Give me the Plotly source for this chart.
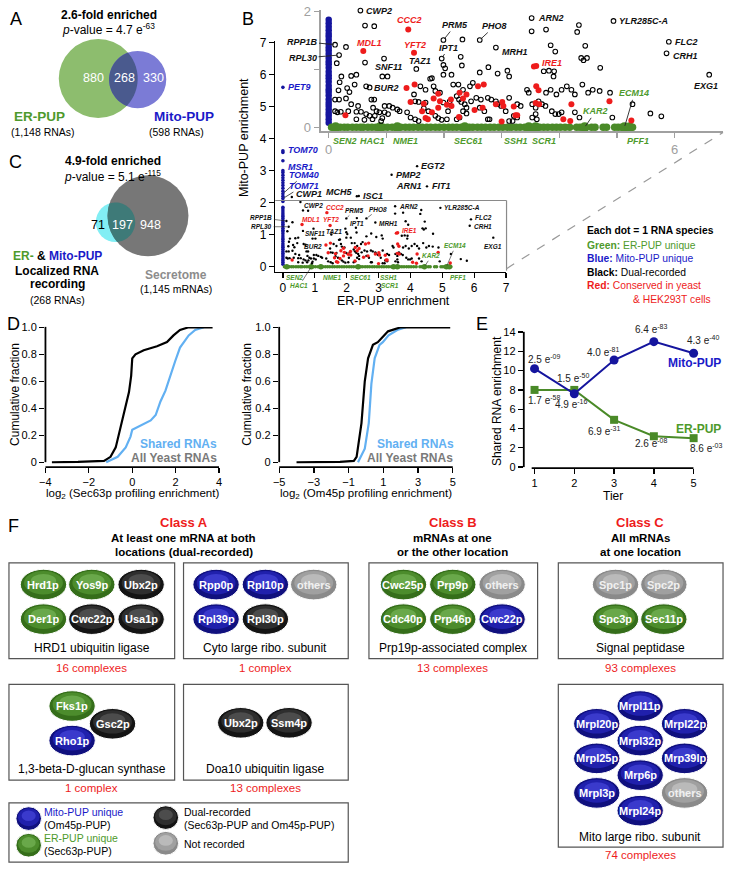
import math
import plotly.graph_objects as go

W, H = 729, 869
FONT = "Liberation Sans, Arial, Helvetica, sans-serif"


def px(x):
    return x / W


def py(y):
    return 1 - y / H


GREEN = "#4a8a28"
GREEN_T = "#4e9a2c"
BLUE = "#15159e"
BLUE_T = "#1a1ac8"
RED = "#ee1c1c"
LBLUE = "#62b0f2"

# ====================== DATA ======================
# ---- Panel A ----
vennA_counts = ["880", "268", "330"]
vennA_names = ["ER-PUP", "Mito-PUP"]
vennA_sizes = ["(1,148 RNAs)", "(598 RNAs)"]
vennA_fold = "2.6-fold enriched"
vennA_pval = "4.7 e<sup>-63</sup>"

# ---- Panel C ----
vennC_counts = ["71", "197", "948"]
vennC_sizes = ["(268 RNAs)", "(1,145 mRNAs)"]
vennC_fold = "4.9-fold enriched"
vennC_pval = "5.1 e<sup>-115</sup>"

# ---- Panel B: (ER-PUP enrichment, Mito-PUP enrichment) ----
black_pts = [
    (0.55, 2.02), (0.63, 1.76), (0.79, 1.75), (0.11, 1.43), (0.30, 1.39), (0.18, 1.25), (0.14, 1.11),
    (0.96, 1.19), (0.63, 1.12), (1.99, 1.51), (2.32, 1.52), (2.62, 1.51), (2.90, 1.38), (1.96, 1.19),
    (2.29, 1.22), (1.99, 1.08), (2.02, 1.02), (2.31, 1.07), (1.52, 1.01), (3.52, 1.89), (3.52, 1.66),
    (3.77, 1.69), (3.85, 1.42), (3.93, 1.31), (4.34, 1.77), (4.31, 1.65), (4.45, 1.41), (4.38, 1.20),
    (4.48, 1.20), (4.42, 1.16), (4.71, 1.03), (4.94, 1.84), (5.90, 1.48), (5.86, 1.28), (6.60, 0.91),
    (2.77, 1.04), (2.62, 0.95), (2.93, 0.93), (3.10, 0.98), (3.13, 0.88), (3.73, 0.97), (3.82, 0.98),
    (3.91, 0.97), (3.90, 0.88), (4.40, 0.74), (1.99, 0.91), (2.13, 0.91), (1.76, 0.84), (0.22, 0.88),
    (0.19, 0.78), (0.39, 0.89), (0.48, 0.91), (0.45, 0.74), (0.65, 0.71), (0.71, 0.69), (0.93, 0.88),
    (1.02, 0.88), (0.17, 0.64), (0.18, 0.48), (0.32, 0.68), (0.36, 0.61), (0.11, 0.48), (0.11, 0.28),
    (0.15, 0.26), (0.21, 0.27), (0.30, 0.50), (0.39, 0.40), (0.34, 0.28), (0.51, 0.37), (0.48, 0.27),
    (0.56, 0.27), (0.65, 0.23), (0.71, 0.20), (0.74, 0.48), (0.79, 0.48), (0.77, 0.34), (0.83, 0.28),
    (0.88, 0.26), (0.80, 0.20), (0.91, 0.11), (0.97, 0.37), (1.05, 0.37), (1.11, 0.34), (0.97, 0.26),
    (1.03, 0.23), (0.48, 0.14), (0.62, 0.13), (0.76, 0.14), (0.93, 0.16), (1.19, 0.31), (1.23, 0.28),
    (1.36, 0.26), (1.42, 0.17), (1.50, 0.14), (1.56, 0.11), (1.50, 0.45), (1.56, 0.44), (1.68, 0.43),
    (1.48, 0.57), (1.59, 0.71), (1.68, 0.65), (1.79, 0.85), (1.82, 0.71), (1.85, 0.63), (1.93, 0.60),
    (1.65, 0.33), (1.73, 0.28), (1.85, 0.20), (1.90, 0.16), (1.96, 0.13), (2.05, 0.14), (1.99, 0.43),
    (2.10, 0.45), (2.07, 0.28), (2.16, 0.74), (2.25, 0.74), (2.33, 0.65), (2.22, 0.54), (2.26, 0.48),
    (2.30, 0.44), (2.36, 0.40), (2.39, 0.34), (2.33, 0.28), (2.39, 0.24), (2.27, 0.17), (2.22, 0.14),
    (2.45, 0.71), (2.50, 0.77), (2.47, 0.45), (2.56, 0.51), (2.64, 0.48), (2.76, 0.51), (2.82, 0.48),
    (2.62, 0.34), (2.70, 0.28), (2.76, 0.14), (2.79, 0.14), (2.90, 0.45), (2.93, 0.40), (2.99, 0.37),
    (3.13, 0.51), (3.07, 0.28), (3.21, 0.20), (3.27, 0.17), (3.19, 0.11), (3.13, 0.11), (3.27, 0.40),
    (3.33, 0.37), (3.44, 0.65), (3.47, 0.60), (3.53, 0.40), (3.59, 0.34), (3.64, 0.45), (3.70, 0.40),
    (3.53, 0.17), (3.59, 0.23), (3.61, 0.14), (3.77, 0.60), (3.85, 0.65), (3.95, 0.57), (4.04, 0.65),
    (4.13, 0.71), (4.21, 0.65), (4.27, 0.57), (3.76, 0.37), (3.87, 0.28), (3.93, 0.23), (3.99, 0.23),
    (4.04, 0.26), (4.27, 0.26), (4.35, 0.17), (4.50, 0.60), (4.58, 0.65), (4.70, 0.63), (4.88, 0.60),
    (4.92, 0.17), (5.27, 0.40), (5.58, 0.24), (5.77, 0.19),
    (0.28, 2.18), (2.32, 2.20), (2.38, 2.21), (3.41, 2.87), (4.21, 3.14), (4.52, 2.51),
]
red_pts = [
    (1.38, 1.69), (0.60, 1.32), (1.48, 1.29), (3.56, 1.05), (3.60, 1.06), (0.29, 0.21), (1.35, 0.68),
    (1.49, 0.74), (1.42, 0.44), (1.65, 0.41), (1.82, 0.50), (1.90, 0.58), (1.93, 0.45), (2.05, 0.39),
    (1.62, 0.28), (1.68, 0.16), (1.72, 0.14), (1.90, 0.34), (1.79, 0.26), (2.13, 0.37), (2.12, 0.48),
    (2.27, 0.60), (2.39, 0.57), (2.33, 0.50), (2.59, 0.71), (2.69, 0.74), (2.53, 0.30), (2.67, 0.34),
    (2.26, 0.18), (2.90, 0.40), (3.01, 0.44), (3.03, 0.37), (3.00, 0.10), (3.21, 0.36), (3.24, 0.21),
    (3.27, 0.21), (3.60, 0.71), (3.64, 0.64), (3.59, 0.42), (3.65, 0.40), (4.07, 0.14), (4.19, 0.11),
    (4.21, 0.40), (4.87, 0.45), (5.25, 0.12),
]
green_x = [0.05, 0.12, 0.20, 0.27, 0.33, 0.41, 0.48, 0.55, 0.60, 0.68, 0.75, 0.82, 0.89, 0.95, 1.02,
           1.10, 1.19, 1.25, 1.33, 1.40, 1.47, 1.55, 1.62, 1.70, 1.77, 1.85, 1.92, 2.00, 2.08, 2.15,
           2.22, 2.30, 2.36, 2.44, 2.50, 2.58, 2.65, 2.72, 2.80, 2.87, 2.95, 3.02, 3.10, 3.17, 3.25,
           3.32, 3.40, 3.47, 3.53, 3.59, 3.66, 3.73, 3.80, 3.88, 3.95, 4.02, 4.10, 4.18, 4.30, 4.36,
           4.44, 4.56, 4.62, 4.76, 4.82, 4.96, 5.02, 5.08, 5.13, 5.18, 5.22, 5.27]
blue_y = [0.08, 0.14, 0.20, 0.25, 0.31, 0.37, 0.42, 0.48, 0.55, 0.61, 0.66, 0.72, 0.79, 0.85, 0.90,
          0.96, 1.03, 1.09, 1.14, 1.20, 1.27, 1.33, 1.38, 1.44, 1.51, 1.57, 1.62, 1.68, 1.74, 1.80,
          1.86, 2.04, 2.13, 2.20, 2.28, 2.36, 2.45, 2.54, 2.62, 2.70, 2.78, 2.86, 2.94, 3.00, 3.31,
          3.57, 3.62, 5.60]
# labelled genes: (ER-PUP, Mito-PUP, class)
genes = {
    "CWP2": (0.55, 2.02, "k"), "CCC2": (1.38, 1.69, "r"), "MDL1": (0.60, 1.32, "r"),
    "YFT2": (1.48, 1.29, "r"), "RPP1B": (0.11, 1.43, "k"), "RPL30": (0.18, 1.25, "k"),
    "PRM5": (1.99, 1.51, "k"), "IPT1": (1.96, 1.19, "k"), "PHO8": (2.62, 1.51, "k"),
    "MRH1": (2.90, 1.38, "k"), "ARN2": (3.52, 1.89, "k"), "IRE1": (3.60, 1.06, "r"),
    "TAZ1": (1.52, 1.01, "k"), "SNF11": (0.93, 0.88, "k"), "BUR2": (1.02, 0.88, "k"),
    "YLR285C-A": (4.94, 1.84, "k"), "FLC2": (5.90, 1.48, "k"), "CRH1": (5.86, 1.28, "k"),
    "EXG1": (6.60, 0.91, "k"),
    "SEN2": (0.12, 0, "g"), "HAC1": (0.89, 0, "g"), "NME1": (1.19, 0, "g"), "SEC61": (2.36, 0, "g"),
    "SSH1": (3.47, 0, "g"), "SCR1": (3.59, 0, "g"), "KAR2": (4.44, 0, "g"), "ECM14": (5.13, 0, "g"),
    "PFF1": (5.22, 0, "g"),
    "PET9": (0, 5.60, "b"), "TOM70": (0, 3.60, "b"), "MSR1": (0, 3.00, "b"), "TOM40": (0, 2.28, "b"),
    "TOM71": (0, 2.13, "b"),
    "CWP1": (0.28, 2.18, "k"), "MCH5": (2.32, 2.20, "k"), "ISC1": (2.38, 2.21, "k"),
    "PMP2": (3.41, 2.87, "k"), "EGT2": (4.21, 3.14, "k"), "ARN1": (4.52, 2.51, "k"),
    "FIT1": (4.52, 2.51, "k"),
}
green_labelled = ["SEN2", "HAC1", "NME1", "SEC61", "SSH1", "SCR1", "KAR2", "ECM14", "PFF1"]

# ---- Panel D: cumulative fraction curves ----
d1_all_x = [-3.7, -2.5, -1.3, -1.0, -0.76, -0.53, -0.30, -0.15, -0.05, 0.0, 0.15, 0.53, 1.14, 1.6, 1.9, 2.2, 2.6, 3.7]
d1_all_y = [0.0, 0.002, 0.01, 0.04, 0.11, 0.26, 0.40, 0.52, 0.64, 0.77, 0.80, 0.83, 0.86, 0.89, 0.94, 0.98, 1.0, 1.0]
d1_sh_x = [-1.2, -0.67, -0.3, -0.08, 0.0, 0.24, 0.55, 0.85, 1.08, 1.3, 1.53, 1.76, 1.98, 2.2, 2.36, 2.6, 2.9, 3.3]
d1_sh_y = [0.0, 0.04, 0.11, 0.19, 0.24, 0.26, 0.28, 0.31, 0.35, 0.45, 0.53, 0.65, 0.75, 0.85, 0.89, 0.94, 0.98, 1.0]
d2_all_x = [-4.0, -1.5, -0.7, -0.54, -0.26, -0.07, 0.12, 0.40, 0.68, 1.27, 2.0, 4.85]
d2_all_y = [0.0, 0.003, 0.01, 0.04, 0.29, 0.60, 0.77, 0.87, 0.89, 0.97, 1.0, 1.0]
d2_sh_x = [-0.46, -0.07, 0.16, 0.31, 0.5, 0.78, 0.97, 1.3, 1.8, 2.3]
d2_sh_y = [0.0, 0.10, 0.29, 0.58, 0.77, 0.87, 0.89, 0.94, 0.98, 1.0]
d_ticks_y = [0, 0.2, 0.4, 0.6, 0.8, 1.0]
d_ticktext_y = ["0", "0.2", "0.4", "0.6", "0.8", "1.0"]
d1_ticks_x = [-4, -2, 0, 2, 4]
d2_ticks_x = [-5, -3, -1, 1, 3, 5]

# ---- Panel E ----
tiers = [1, 2, 3, 4, 5]
mito_enrich = [10.2, 7.6, 11.1, 13.0, 11.8]
er_enrich = [8.0, 8.0, 4.9, 3.2, 3.0]
mito_pvals = ["2.5 e<sup>-09</sup>", "1.5 e<sup>-50</sup>", "4.0 e<sup>-81</sup>", "6.4 e<sup>-83</sup>", "4.3 e<sup>-40</sup>"]
er_pvals = ["1.7 e<sup>-58</sup>", "4.9 e<sup>-16</sup>", "6.9 e<sup>-31</sup>", "2.6 e<sup>-08</sup>", "8.6 e<sup>-03</sup>"]

# ---- Panel F ----
complex_names = ["HRD1 ubiquitin ligase", "Cyto large ribo. subunit", "1,3-beta-D-glucan synthase",
                 "Doa10 ubiquitin ligase", "Prp19p-associated complex", "Signal peptidase",
                 "Mito large ribo. subunit"]
complex_counts = ["16 complexes", "1 complex", "1 complex", "13 complexes", "13 complexes",
                  "93 complexes", "74 complexes"]
complex_members = [
    [("Hrd1p", "g"), ("Yos9p", "g"), ("Ubx2p", "k"), ("Der1p", "g"), ("Cwc22p", "k"), ("Usa1p", "k")],
    [("Rpp0p", "b"), ("Rpl10p", "b"), ("others", "a"), ("Rpl39p", "b"), ("Rpl30p", "k")],
    [("Fks1p", "g"), ("Rho1p", "b"), ("Gsc2p", "k")],
    [("Ubx2p", "k"), ("Ssm4p", "k")],
    [("Cwc25p", "g"), ("Prp9p", "g"), ("others", "a"), ("Cdc40p", "g"), ("Prp46p", "g"), ("Cwc22p", "b")],
    [("Spc1p", "a"), ("Spc2p", "a"), ("Spc3p", "g"), ("Sec11p", "g")],
    [("Mrpl11p", "b"), ("Mrpl20p", "b"), ("Mrpl22p", "b"), ("Mrpl32p", "b"), ("Mrpl25p", "b"),
     ("Mrp39lp", "b"), ("Mrp6p", "b"), ("Mrpl3p", "b"), ("others", "a"), ("Mrpl24p", "b")],
]
class_titles = ["Class A", "Class B", "Class C"]
class_subtitles = [["At least one mRNA at both", "locations (dual-recorded)"],
                   ["mRNAs at one", "or the other location"],
                   ["All mRNAs", "at one location"]]

# ====================== LAYOUT GEOMETRY (pixels) ======================
shapes = []
ann = []
fig = go.Figure()


def T(x, y, text, size=12, color="black", bold=False, italic=False, xa="center", ya="middle", angle=0):
    if italic:
        text = f"<i>{text}</i>"
    if bold:
        text = f"<b>{text}</b>"
    ann.append(dict(x=px(x), y=py(y), xref="paper", yref="paper", text=text, showarrow=False,
                    font=dict(family=FONT, size=size, color=color), xanchor=xa, yanchor=ya,
                    textangle=angle))


def line(x0, y0, x1, y1, color="black", width=1.5, dash=None):
    d = dict(type="line", xref="paper", yref="paper", x0=px(x0), y0=py(y0), x1=px(x1), y1=py(y1),
             line=dict(color=color, width=width))
    if dash:
        d["line"]["dash"] = dash
    shapes.append(d)


def rect(x0, y0, x1, y1, color="#555", width=1.2):
    shapes.append(dict(type="rect", xref="paper", yref="paper", x0=px(x0), y0=py(y1), x1=px(x1),
                       y1=py(y0), line=dict(color=color, width=width), fillcolor="rgba(0,0,0,0)"))


def circle(cx, cy, r, color):
    shapes.append(dict(type="circle", xref="paper", yref="paper", x0=px(cx - r), x1=px(cx + r),
                       y0=py(cy + r), y1=py(cy - r), fillcolor=color, line=dict(width=0)))


def lens(c1, r1, c2, r2, color, n=40):
    (x1, y1), (x2, y2) = c1, c2
    dx, dy = x2 - x1, y2 - y1
    d = math.hypot(dx, dy)
    a = (r1 * r1 - r2 * r2 + d * d) / (2 * d)
    al1 = math.acos(a / r1)
    al2 = math.acos((d - a) / r2)
    phi = math.atan2(dy, dx)
    pts = []
    for i in range(n + 1):
        t = phi - al1 + 2 * al1 * i / n
        pts.append((x1 + r1 * math.cos(t), y1 + r1 * math.sin(t)))
    for i in range(n + 1):
        t = phi + math.pi - al2 + 2 * al2 * i / n
        pts.append((x2 + r2 * math.cos(t), y2 + r2 * math.sin(t)))
    path = "M " + " L ".join(f"{px(x):.5f},{py(y):.5f}" for x, y in pts) + " Z"
    shapes.append(dict(type="path", xref="paper", yref="paper", path=path, fillcolor=color,
                       line=dict(width=0)))


# ---------------- Panel A ----------------
T(10, 13, "A", size=18)
T(104, 9, vennA_fold, size=12, bold=True)
T(104, 23, "<i>p</i>-value = " + vennA_pval, size=12)
cA1, rA1 = (93.5, 73.5), 40
cA2, rA2 = (133.5, 74.5), 29
circle(*cA1, rA1, "#8dbd6e")
circle(*cA2, rA2, "#7b7bd6")
lens(cA1, rA1, cA2, rA2, "#4a5a8e")
for xx, t in zip([89, 120, 150], vennA_counts):
    T(xx, 73, t, size=12.5, color="white")
T(34, 112, vennA_names[0], size=13.5, color=GREEN_T, bold=True)
T(38, 128, vennA_sizes[0], size=10.5)
T(180, 112, vennA_names[1], size=13.5, color=BLUE_T, bold=True)
T(173, 128, vennA_sizes[1], size=10.5)

# ---------------- Panel C ----------------
T(10, 158, "C", size=18)
T(108, 157, vennC_fold, size=12, bold=True)
T(108, 172, "<i>p</i>-value = " + vennC_pval, size=12)
cC1, rC1 = (111, 219), 20
cC2, rC2 = (144, 212.5), 41
circle(*cC1, rC1, "#82eef4")
circle(*cC2, rC2, "#777777")
lens(cC1, rC1, cC2, rC2, "#3e7a78")
T(93, 222, vennC_counts[0], size=12.5, color="black")
T(118, 222, vennC_counts[1], size=12.5, color="white")
T(147, 222, vennC_counts[2], size=12.5, color="white")
T(52, 253, f"<span style='color:{GREEN_T}'>ER-</span> &amp; <span style='color:{BLUE_T}'>Mito-PUP</span>",
  size=12, bold=True)
T(52, 268, "Localized RNA", size=12, bold=True)
T(52, 282, "recording", size=12, bold=True)
T(52, 298, vennC_sizes[0], size=10.5)
T(172, 272, "Secretome", size=12, color="#8c8c8c", bold=True)
T(172, 287, vennC_sizes[1], size=10.5)

# ---------------- Panel B ----------------
T(245, 13, "B", size=18)


def sc(x, y, xa, ya, **kw):
    fig.add_trace(go.Scatter(x=x, y=y, xaxis=xa, yaxis=ya, showlegend=False, hoverinfo="skip", **kw))


bx = [p[0] for p in black_pts]
by = [p[1] for p in black_pts]
rx = [p[0] for p in red_pts]
ry = [p[1] for p in red_pts]
gbig = [genes[n][0] for n in green_labelled]

# main panel
sc([0] * len(blue_y), blue_y, "x", "y", mode="markers", marker=dict(size=3.6, color=BLUE), cliponaxis=False)
sc(green_x, [0] * len(green_x), "x", "y", mode="markers", marker=dict(size=3.6, color=GREEN), cliponaxis=False)
sc(gbig, [0] * len(gbig), "x", "y", mode="markers", marker=dict(size=5.5, color=GREEN), cliponaxis=False)
sc(bx, by, "x", "y", mode="markers", marker=dict(size=2.4, color="black"), cliponaxis=False)
sc(rx, ry, "x", "y", mode="markers", marker=dict(size=3.4, color=RED), cliponaxis=False)

# inset (zoom of Mito-PUP 0-2)
bi = [y for y in blue_y if y <= 2.05]
blk_in = [(x, y) for x, y in black_pts if y <= 2.05]
sc([0] * len(bi), bi, "x2", "y2", mode="markers", marker=dict(size=6.5, color=BLUE), cliponaxis=False)
sc(green_x, [0] * len(green_x), "x2", "y2", mode="markers", marker=dict(size=7.5, color=GREEN), cliponaxis=False)
sc(gbig, [0] * len(gbig), "x2", "y2", mode="markers", marker=dict(size=10, color=GREEN), cliponaxis=False)
sc([p[0] for p in blk_in], [p[1] for p in blk_in], "x2", "y2", mode="markers",
   marker=dict(size=4.6, symbol="circle-open", color="black", line=dict(width=1.1, color="black")),
   cliponaxis=False)
sc(rx, ry, "x2", "y2", mode="markers", marker=dict(size=6, color=RED), cliponaxis=False)

CMAP = {"k": "#111111", "r": RED, "g": GREEN_T, "b": BLUE_T}


def gene_ann(name, dx, dy, anchor, has_line, xref, yref, size, lw):
    x, y, c = genes[name]
    d = dict(x=x, y=y, xref=xref, yref=yref, text=f"<b><i>{name}</i></b>",
             font=dict(family=FONT, size=size, color=CMAP[c]))
    if has_line:
        d.update(showarrow=True, arrowhead=0, arrowwidth=lw, arrowcolor="#222222", ax=dx, ay=dy,
                 standoff=1.5)
    else:
        d.update(showarrow=False, xanchor=anchor, yanchor="middle", xshift=dx, yshift=-dy)
    ann.append(d)


inset_lab = [
    ("CWP2", 4, 0, "left", False), ("CCC2", 1, -10, "center", False), ("MDL1", 6, -8, "center", False),
    ("YFT2", 1, -8, "center", False), ("RPP1B", -33, -3, None, True), ("RPL30", -36, 3, None, True),
    ("PRM5", 12, -15, None, True), ("IPT1", 7, -11, None, True), ("PHO8", 15, -14, None, True),
    ("MRH1", 4, 4, "left", False), ("ARN2", 4, 0, "left", False), ("IRE1", 4, -3, "left", False),
    ("TAZ1", 4, -8, "center", False), ("SNF11", 6, -9, "center", False), ("BUR2", -1, 12, "center", False),
    ("YLR285C-A", 4, 0, "left", False), ("FLC2", 4, 0, "left", False), ("CRH1", 4, 3, "left", False),
    ("EXG1", -3, 11, "center", False), ("KAR2", 11, -16, None, True), ("ECM14", 10, -34, None, True),
    ("PFF1", 8, 14, "center", False), ("SSH1", -13, 14, "center", False), ("SCR1", 8, 14, "center", False),
    ("SEC61", 4, 14, "center", False), ("NME1", 8, 14, "center", False), ("HAC1", -8, 14, "center", False),
    ("SEN2", 9, 14, "center", False),
]
for n, dx, dy, a, l in inset_lab:
    gene_ann(n, dx, dy, a, l, "x2", "y2", 9, 0.9)

main_lab = [
    ("CWP2", 2, 3, "left", False), ("CCC2", 8, -5, "center", False), ("PRM5", 8, -8, None, True),
    ("PHO8", 12, -9, None, True), ("ARN2", 2, 0, "left", False), ("YLR285C-A", 2, 0, "left", False),
    ("RPP1B", -25, -3, None, True), ("RPL30", -27, 0, None, True), ("MDL1", 9, -5, "center", False),
    ("YFT2", 1, -6, "center", False), ("SNF11", 2, -5, "center", False), ("TAZ1", 3, -3, "center", False),
    ("IPT1", 12, -5, "center", False), ("MRH1", 2, 1, "left", False), ("IRE1", 2, -2, "left", False),
    ("BUR2", -2, 8, "center", False), ("FLC2", 2, -2, "left", False), ("CRH1", 2, 1, "left", False),
    ("EXG1", 0, 9, "center", False), ("ECM14", 9, -21, None, True), ("KAR2", 7, -11, None, True),
    ("SEN2", 8, 11, "center", False), ("HAC1", -12, 19, None, True), ("NME1", 11, 11, "center", False),
    ("SEC61", 2, 11, "center", False), ("SSH1", -5, 11, "center", False), ("SCR1", -7, 19, "center", False),
    ("PFF1", 9, 11, "center", False),
]
for n, dx, dy, a, l in main_lab:
    gene_ann(n, dx, dy, a, l, "x", "y", 6.5, 0.6)

big_lab = [
    ("PET9", 3, 0, "left", False), ("TOM70", 3, -1, "left", False), ("MSR1", 3, -4, "left", False),
    ("TOM40", 21, -19, None, True), ("TOM71", 21, -13, None, True), ("CWP1", 2, -3, "left", False),
    ("MCH5", -3, -4, "right", False), ("ISC1", 2, 0, "left", False), ("PMP2", 2, 0, "left", False),
    ("EGT2", 2, 0, "left", False), ("ARN1", -3, 0, "right", False), ("FIT1", 3, 0, "left", False),
]
for n, dx, dy, a, l in big_lab:
    gene_ann(n, dx, dy, a, l, "x", "y", 9, 0.8)

# zoom box & connector
line(273, 197, 507.5, 197, color="#8a8a8a", width=1.2)
line(507.5, 197, 507.5, 268, color="#8a8a8a", width=1.2)
line(507.5, 266, 727, 128, color="#9a9a9a", width=1.2, dash="dash")

T(242, 133, "Mito-PUP enrichment", size=12.5, angle=-90)
T(393, 299, "ER-PUP enrichment", size=12.5)

T(587, 227, "Each dot = 1 RNA species", size=10.3, bold=True, xa="left")
T(587, 243, "<b>Green:</b> ER-PUP unique", size=10.3, color=GREEN_T, xa="left")
T(587, 256, "<b>Blue:</b> Mito-PUP unique", size=10.3, color=BLUE_T, xa="left")
T(587, 270, "<b>Black:</b> Dual-recorded", size=10.3, color="black", xa="left")
T(587, 283, "<b>Red:</b> Conserved in yeast", size=10.3, color=RED, xa="left")
T(634, 297, "&amp; HEK293T cells", size=10.3, color=RED, xa="left")

# ---------------- Panel D ----------------
T(8, 322, "D", size=18)
sc(d1_sh_x, d1_sh_y, "x3", "y3", mode="lines", line=dict(color=LBLUE, width=2.2), cliponaxis=False)
sc(d1_all_x, d1_all_y, "x3", "y3", mode="lines", line=dict(color="black", width=2.2), cliponaxis=False)
sc(d2_sh_x, d2_sh_y, "x4", "y4", mode="lines", line=dict(color=LBLUE, width=2.2), cliponaxis=False)
sc(d2_all_x, d2_all_y, "x4", "y4", mode="lines", line=dict(color="black", width=2.2), cliponaxis=False)
line(40, 325, 40, 462, width=1.8)
line(40, 467, 216, 467, width=1.8)
line(277, 325, 277, 462, width=1.8)
line(277, 467, 453, 467, width=1.8)
T(9, 393, "Cumulative fraction", size=12, angle=-90)
T(244, 393, "Cumulative fraction", size=12, angle=-90)
T(128, 494, "log<sub>2</sub> (Sec63p profiling enrichment)", size=11.5)
T(365, 494, "log<sub>2</sub> (Om45p profiling enrichment)", size=11.5)
T(175, 444, "Shared RNAs", size=12, color=LBLUE, bold=True)
T(170, 458, "All Yeast RNAs", size=12, color="#7a7a7a", bold=True)
T(415, 444, "Shared RNAs", size=12, color=LBLUE, bold=True)
T(410, 458, "All Yeast RNAs", size=12, color="#7a7a7a", bold=True)

# ---------------- Panel E ----------------
T(483, 322, "E", size=18)
sc(tiers, er_enrich, "x5", "y5", mode="lines+markers", line=dict(color=GREEN, width=2),
   marker=dict(symbol="square", size=8, color=GREEN), cliponaxis=False)
sc(tiers, mito_enrich, "x5", "y5", mode="lines+markers", line=dict(color=BLUE, width=2),
   marker=dict(symbol="circle", size=9, color=BLUE), cliponaxis=False)
mito_off = [(9, -10), (-1, -16), (-11, -8), (-3, -13), (9, -13)]
er_off = [(9, 10), (-3, 14), (-10, 11), (-3, 7), (12, 10)]
for t, v, lab, (dx, dy) in zip(tiers, mito_enrich, mito_pvals, mito_off):
    ann.append(dict(x=t, y=v, xref="x5", yref="y5", text=lab, showarrow=False, xshift=dx, yshift=-dy,
                    font=dict(family=FONT, size=10, color="#222")))
for t, v, lab, (dx, dy) in zip(tiers, er_enrich, er_pvals, er_off):
    ann.append(dict(x=t, y=v, xref="x5", yref="y5", text=lab, showarrow=False, xshift=dx, yshift=-dy,
                    font=dict(family=FONT, size=10, color="#222")))
line(525, 330, 525, 467, width=1.8)
line(533, 468, 697, 468, width=1.8)
T(727, 362, "Mito-PUP", size=12, color=BLUE_T, bold=True, xa="right")
T(727, 428, "ER-PUP", size=12, color=GREEN_T, bold=True, xa="right")
T(498, 400, "Shared RNA enrichment", size=12, angle=-90)
T(615, 496, "Tier", size=12)

# ---------------- Panel F ----------------
T(8, 527, "F", size=18)
for cx, title, subs in zip([180, 453, 643], class_titles, class_subtitles):
    T(cx, 523, title, size=13, color=RED, bold=True)
    T(cx, 539, subs[0], size=11.5, bold=True)
    T(cx, 553, subs[1], size=11.5, bold=True)

PAL = {
    "g": ("#356e1a", "#4c8c2c", "#69a84a"),
    "b": ("#10107e", "#2020ac", "#3a3acc"),
    "k": ("#141414", "#2e2e2e", "#4c4c4c"),
    "a": ("#8a8a8a", "#a0a0a0", "#bababa"),
}


def ellipse(cx, cy, w, h, kind):
    c1, c2, c3 = PAL[kind]
    shapes.append(dict(type="circle", xref="paper", yref="paper", x0=px(cx - w / 2), x1=px(cx + w / 2),
                       y0=py(cy + h / 2), y1=py(cy - h / 2), fillcolor=c1,
                       line=dict(color="white", width=1)))
    w2, h2, y2 = w * 0.84, h * 0.76, cy - h * 0.06
    shapes.append(dict(type="circle", xref="paper", yref="paper", x0=px(cx - w2 / 2), x1=px(cx + w2 / 2),
                       y0=py(y2 + h2 / 2), y1=py(y2 - h2 / 2), fillcolor=c2, line=dict(width=0)))
    w3, h3, y3 = w * 0.55, h * 0.45, cy - h * 0.12
    shapes.append(dict(type="circle", xref="paper", yref="paper", x0=px(cx - w3 / 2), x1=px(cx + w3 / 2),
                       y0=py(y3 + h3 / 2), y1=py(y3 - h3 / 2), fillcolor=c3, line=dict(width=0)))


boxes = [(3, 564, 171, 661), (180, 564, 347, 661), (3, 687, 171, 784), (180, 687, 347, 784),
         (368, 564, 539, 661), (560, 564, 727, 661), (560, 687, 727, 852)]
ell_pos = [
    [(38, 586), (87, 586), (137, 586), (38, 621), (87, 621), (137, 621)],
    [(213, 586), (263, 586), (312, 586), (213, 621), (263, 621)],
    [(67, 709), (67, 744), (108, 727)],
    [(238, 726), (287, 726)],
    [(403, 586), (453, 586), (503, 586), (403, 621), (453, 621), (503, 621)],
    [(618, 586), (667, 586), (618, 621), (667, 621)],
    [(643, 709), (599, 727), (688, 727), (643, 744), (599, 762), (688, 762), (643, 779), (599, 797),
     (688, 797), (643, 815)],
]
caption_pos = [((87, 650), (87, 670)), ((263, 650), (263, 670)), ((87, 773), (87, 792)),
               ((263, 773), (263, 792)), ((453, 650), (453, 670)), ((643, 650), (643, 670)),
               ((643, 842), (643, 860))]
for b, members, pos, name, cnt, (cp, np_) in zip(boxes, complex_members, ell_pos, complex_names,
                                                 complex_counts, caption_pos):
    rect(*b)
    for (lab, kind), (ex, ey) in zip(members, pos):
        ellipse(ex, ey, 47, 31, kind)
        T(ex, ey, lab, size=11, color="#f0f0f0" if kind == "a" else "white", bold=True)
    T(cp[0], cp[1], name, size=12, color="black")
    T(np_[0], np_[1], cnt, size=11.5, color=RED)

# legend box
rect(3, 807, 347, 867)
ellipse(23, 823, 26, 24, "b")
ellipse(23, 850, 26, 24, "g")
ellipse(162, 822, 26, 24, "k")
ellipse(162, 848, 26, 24, "a")
T(37, 816, "Mito-PUP unique", size=10.5, color=BLUE_T, xa="left")
T(37, 829, "(Om45p-PUP)", size=10.5, xa="left")
T(37, 843, "ER-PUP unique", size=10.5, color=GREEN_T, xa="left")
T(37, 856, "(Sec63p-PUP)", size=10.5, xa="left")
T(178, 816, "Dual-recorded", size=10.5, xa="left")
T(178, 829, "(Sec63p-PUP and Om45p-PUP)", size=10.5, xa="left")
T(178, 849, "Not recorded", size=10.5, xa="left")

# ====================== AXES ======================


def ax(**kw):
    d = dict(showgrid=False, zeroline=False, showline=False, ticks="outside", ticklen=5, tickwidth=1.3,
             tickcolor="black", tickfont=dict(family=FONT, size=11, color="black"), fixedrange=True)
    d.update(kw)
    return d


GRAY = "#a0a0a0"
layout = dict(
    width=W, height=H, autosize=False, margin=dict(l=0, r=0, t=0, b=0),
    paper_bgcolor="white", plot_bgcolor="white", hovermode=False, showlegend=False,
    font=dict(family=FONT),
    xaxis=ax(domain=[px(273), px(507)], range=[-0.24, 7.0], anchor="y", showline=True, linecolor="black",
             linewidth=1.4, tickvals=list(range(8)), tickfont=dict(family=FONT, size=12, color="black")),
    yaxis=ax(domain=[py(269), py(35)], range=[-0.15, 7.06], anchor="x", showline=True, linecolor="black",
             linewidth=1.4, tickvals=list(range(8)), tickfont=dict(family=FONT, size=12, color="black")),
    xaxis2=ax(domain=[px(319), px(727)], range=[-0.14, 6.84], anchor="y2", showline=True, linecolor=GRAY,
              linewidth=2, tickcolor=GRAY, tickwidth=1.5, tickvals=[0, 1, 2, 3, 4, 5, 6],
              ticktext=["0", "", "", "", "", "", "6"], tickfont=dict(family=FONT, size=13, color=GRAY)),
    yaxis2=ax(domain=[py(127), py(4)], range=[-0.07, 2.03], anchor="x2", showline=True, linecolor=GRAY,
              linewidth=2, tickcolor=GRAY, tickwidth=1.5, tickvals=[0, 1, 2], ticktext=["0", "", "2"],
              tickfont=dict(family=FONT, size=13, color=GRAY)),
    xaxis3=ax(domain=[px(39.5), px(216.5)], range=[-4.02, 4.02], anchor="y3", tickvals=d1_ticks_x),
    yaxis3=ax(domain=[py(467), py(325)], range=[-0.036, 1.003], anchor="x3", tickvals=d_ticks_y,
              ticktext=d_ticktext_y),
    xaxis4=ax(domain=[px(276.6), px(453.4)], range=[-5.02, 5.02], anchor="y4", tickvals=d2_ticks_x),
    yaxis4=ax(domain=[py(467), py(325)], range=[-0.036, 1.003], anchor="x4", tickvals=d_ticks_y,
              ticktext=d_ticktext_y),
    xaxis5=ax(domain=[px(525), px(698)], range=[0.73, 5.02], anchor="y5", tickvals=tiers),
    yaxis5=ax(domain=[py(468), py(330)], range=[-0.1, 14.02], anchor="x5",
              tickvals=[0, 2, 4, 6, 8, 10, 12, 14]),
    shapes=shapes,
    annotations=ann,
)
fig.update_layout(**layout)
fig.write_html("out.html", config={"displayModeBar": False, "staticPlot": True})

# remove the default page margin so the figure sits exactly in the 729x869 window
with open("out.html", "r", encoding="utf-8") as f:
    html = f.read()
html = html.replace("<head>", "<head><style>html,body{margin:0;padding:0;overflow:hidden;}</style>", 1)
with open("out.html", "w", encoding="utf-8") as f:
    f.write(html)
